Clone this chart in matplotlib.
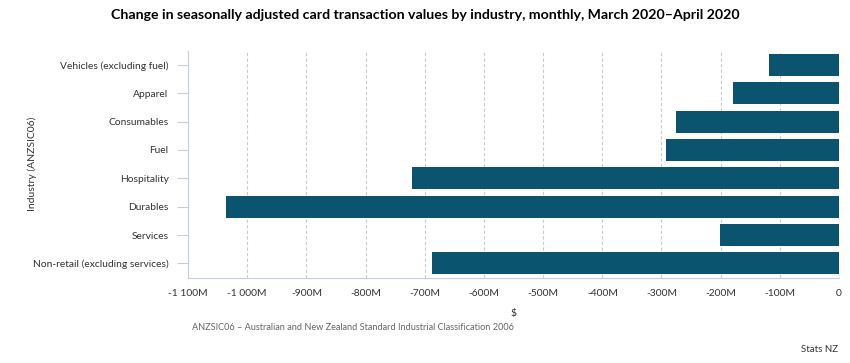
import matplotlib
matplotlib.use("Agg")
import matplotlib.pyplot as plt

plt.rcParams['font.family'] = ['Lato', 'DejaVu Sans']

industries = ["Vehicles (excluding fuel)", "Apparel", "Consumables", "Fuel",
              "Hospitality", "Durables", "Services", "Non-retail (excluding services)"]
change_m = [-118, -179, -276, -292, -722, -1036, -201, -688]
xticks = [-1100, -1000, -900, -800, -700, -600, -500, -400, -300, -200, -100, 0]
xticklabels = ["-1 100M", "-1 000M", "-900M", "-800M", "-700M", "-600M",
               "-500M", "-400M", "-300M", "-200M", "-100M", "0"]

fig = plt.figure(figsize=(8.5, 3.63), dpi=100)
ax = fig.add_axes([0.2212, 0.2355, 0.7659, 0.6245])

pos = list(range(len(industries)))
ax.barh(pos, change_m, height=0.78, color='#0b5470', zorder=3)

ax.set_ylim(len(industries) - 0.5, -0.5)
ax.set_xlim(-1100, 0)
ax.set_yticks(pos)
ax.set_yticklabels(industries, fontsize=7.4, color='#333333')
ax.set_xticks(xticks)
ax.set_xticklabels(xticklabels, fontsize=7.4, color='#333333')

ax.grid(axis='x', color='#cccccc', linestyle=(0, (3, 2)), linewidth=0.8, zorder=0)
for side in ['top', 'right']:
    ax.spines[side].set_visible(False)
for side in ['left', 'bottom']:
    ax.spines[side].set_color('#c5cfe0')
ax.tick_params(axis='y', length=8, color='#c5cfe0', pad=6)
ax.tick_params(axis='x', length=0, pad=8)

ax.set_xlabel("$", fontsize=7.5, color='#333333', labelpad=8)
ax.set_ylabel("Industry (ANZSIC06)", fontsize=7.5, color='#333333')
ax.yaxis.set_label_coords(-0.232, 0.5)

fig.text(0.5, 0.96, "Change in seasonally adjusted card transaction values by industry, monthly, March 2020\u2013April 2020",
         ha='center', va='center', fontsize=10.2, fontweight='bold', color='#000000')
fig.text(192 / 850, 1 - 328 / 363, "ANZSIC06 \u2013 Australian and New Zealand Standard Industrial Classification 2006",
         ha='left', va='center', fontsize=6.6, color='#666666')
fig.text(838 / 850, 1 - 349 / 363, "Stats NZ", ha='right', va='center', fontsize=7, color='#333333')

fig.savefig("out.png", dpi=100)
